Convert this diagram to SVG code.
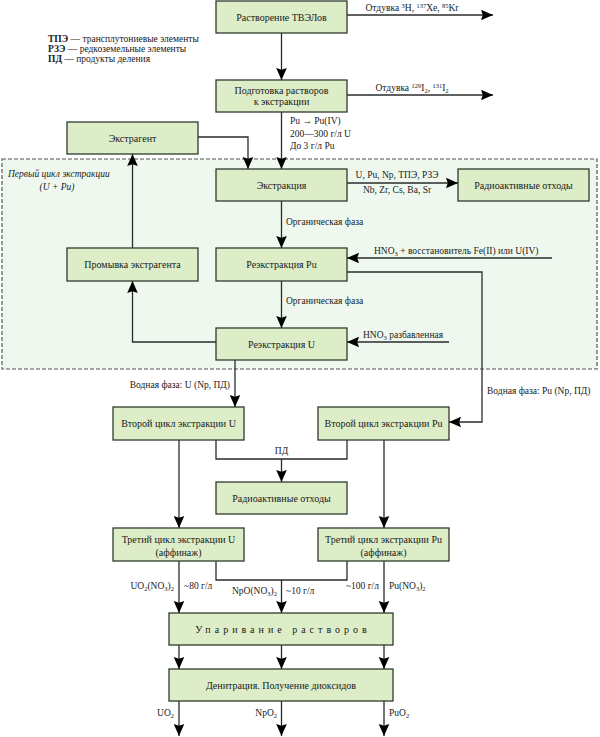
<svg xmlns="http://www.w3.org/2000/svg" width="600" height="737" viewBox="0 0 600 737">
<style>
.n rect{fill:#dcedc8;stroke:#2e3a2e;stroke-width:1.3}
.n text{font-family:"Liberation Serif",serif;font-size:10px;text-anchor:middle;fill:#1a1a1a}
.l{font-family:"Liberation Serif",serif;font-size:9.5px;fill:#1a1a1a}
.c path{fill:none;stroke:#2b2b2b;stroke-width:1.3}
.s{font-size:6.5px}
.m{text-anchor:middle}
.e{text-anchor:end}
</style>
<defs>
<marker id="a" markerUnits="userSpaceOnUse" markerWidth="13" markerHeight="12" viewBox="0 0 13 12" refX="12" refY="6" orient="auto">
<path d="M0,0.7 L12,6 L0,11.3 L1.8,6 z" fill="#000"/>
</marker>
</defs>
<rect x="2" y="159" width="595" height="210" fill="#eff8ee" stroke="#555" stroke-width="1.2" stroke-dasharray="4,2"/>
<text class="l" x="8" y="177" font-style="italic">Первый цикл экстракции</text>
<text class="l m" x="57" y="190" font-style="italic">(U + Pu)</text>
<g id="legend" class="l">
<text x="48" y="42"><tspan font-weight="bold">ТПЭ</tspan> — трансплутониевые элементы</text>
<text x="48" y="52"><tspan font-weight="bold">РЗЭ</tspan> — редкоземельные элементы</text>
<text x="48" y="62"><tspan font-weight="bold">ПД</tspan> — продукты деления</text>
</g>
<g id="connectors" class="c">
<path d="M281.5,33 V80" marker-end="url(#a)"/>
<path d="M347,15 H493" marker-end="url(#a)"/>
<path d="M347,95 H493" marker-end="url(#a)"/>
<path d="M281.5,112 V169" marker-end="url(#a)"/>
<path d="M198,137 H248 V169" marker-end="url(#a)"/>
<path d="M132.5,248 V154" marker-end="url(#a)"/>
<path d="M347,183 H458" marker-end="url(#a)"/>
<path d="M281.5,201 V248" marker-end="url(#a)"/>
<path d="M552,258 H347" marker-end="url(#a)"/>
<path d="M347,272 H482 V422 H449" marker-end="url(#a)"/>
<path d="M281.5,281 V328" marker-end="url(#a)"/>
<path d="M449,342 H347" marker-end="url(#a)"/>
<path d="M216,342 H132.5 V281" marker-end="url(#a)"/>
<path d="M235,360 V407" marker-end="url(#a)"/>
<path d="M179,440 V528" marker-end="url(#a)"/>
<path d="M384,440 V528" marker-end="url(#a)"/>
<path d="M216,440 V459 H347 V440"/>
<path d="M281.5,459 V482" marker-end="url(#a)"/>
<path d="M179,561 V613" marker-end="url(#a)"/>
<path d="M384,561 V613" marker-end="url(#a)"/>
<path d="M216,561 V580 H347 V561"/>
<path d="M281.5,580 V613" marker-end="url(#a)"/>
<path d="M179,645 V669" marker-end="url(#a)"/>
<path d="M281.5,645 V669" marker-end="url(#a)"/>
<path d="M384,645 V669" marker-end="url(#a)"/>
<path d="M179,701 V736" marker-end="url(#a)"/>
<path d="M281.5,701 V736" marker-end="url(#a)"/>
<path d="M384,701 V736" marker-end="url(#a)"/>
</g>
<g id="labels" class="l">
<text x="412" y="11" class="m">Отдувка <tspan class="s" dy="-3">3</tspan><tspan dy="3">H, </tspan><tspan class="s" dy="-3">137</tspan><tspan dy="3">Xe, </tspan><tspan class="s" dy="-3">85</tspan><tspan dy="3">Kr</tspan></text>
<text x="412" y="91" class="m">Отдувка <tspan class="s" dy="-3">129</tspan><tspan dy="3">I</tspan><tspan class="s" dy="2">2</tspan><tspan dy="-2">, </tspan><tspan class="s" dy="-3">131</tspan><tspan dy="3">I</tspan><tspan class="s" dy="2">2</tspan></text>
<text x="290" y="124">Pu → Pu(IV)</text>
<text x="290" y="137">200—300 г/л U</text>
<text x="290" y="149">До 3 г/л Pu</text>
<text x="397" y="178" class="m">U, Pu, Np, ТПЭ, РЗЭ</text>
<text x="397" y="193" class="m">Nb, Zr, Cs, Ba, Sr</text>
<text x="286" y="225">Органическая фаза</text>
<text x="286" y="304">Органическая фаза</text>
<text x="374" y="254">HNO<tspan class="s" dy="2">3</tspan><tspan dy="-2"> + восстановитель  Fe(II) или U(IV)</tspan></text>
<text x="363" y="338">HNO<tspan class="s" dy="2">3</tspan><tspan dy="-2"> разбавленная</tspan></text>
<text x="230" y="388" class="e">Водная фаза: U (Np, ПД)</text>
<text x="487" y="394">Водная фаза: Pu (Np, ПД)</text>
<text x="281.5" y="454" class="m">ПД</text>
<text x="174" y="589" class="e">UO<tspan class="s" dy="2">2</tspan><tspan dy="-2">(NO</tspan><tspan class="s" dy="2">3</tspan><tspan dy="-2">)</tspan><tspan class="s" dy="2">2</tspan></text>
<text x="184" y="589">~80 г/л</text>
<text x="277" y="594" class="e">NpO(NO<tspan class="s" dy="2">3</tspan><tspan dy="-2">)</tspan><tspan class="s" dy="2">2</tspan></text>
<text x="286" y="594">~10 г/л</text>
<text x="379" y="589" class="e">~100 г/л</text>
<text x="389" y="589">Pu(NO<tspan class="s" dy="2">3</tspan><tspan dy="-2">)</tspan><tspan class="s" dy="2">2</tspan></text>
<text x="174" y="716" class="e">UO<tspan class="s" dy="2">2</tspan></text>
<text x="277" y="716" class="e">NpO<tspan class="s" dy="2">2</tspan></text>
<text x="389" y="716">PuO<tspan class="s" dy="2">2</tspan></text>
</g>
<g id="n1" class="n"><rect x="216" y="1" width="131" height="32"/><text x="281.5" y="20.5">Растворение ТВЭЛов</text></g>
<g id="n2" class="n"><rect x="216" y="80" width="131" height="32"/><text x="281.5" y="94">Подготовка растворов</text><text x="281.5" y="105">к экстракции</text></g>
<g id="n3" class="n"><rect x="67" y="122" width="131" height="32"/><text x="132.5" y="141.5">Экстрагент</text></g>
<g id="n4" class="n"><rect x="216" y="169" width="131" height="32"/><text x="281.5" y="188.5">Экстракция</text></g>
<g id="n5" class="n"><rect x="458" y="169" width="131" height="32"/><text x="523.5" y="188.5">Радиоактивные отходы</text></g>
<g id="n6" class="n"><rect x="67" y="248" width="131" height="33"/><text x="132.5" y="268">Промывка экстрагента</text></g>
<g id="n7" class="n"><rect x="216" y="248" width="131" height="33"/><text x="281.5" y="268">Реэкстракция Pu</text></g>
<g id="n8" class="n"><rect x="216" y="328" width="131" height="32"/><text x="281.5" y="347.5">Реэкстракция U</text></g>
<g id="n9" class="n"><rect x="113" y="407" width="131" height="33"/><text x="178.5" y="427">Второй цикл экстракции U</text></g>
<g id="n10" class="n"><rect x="318" y="407" width="131" height="33"/><text x="383.5" y="427">Второй цикл экстракции Pu</text></g>
<g id="n11" class="n"><rect x="216" y="482" width="131" height="32"/><text x="281.5" y="501.5">Радиоактивные отходы</text></g>
<g id="n12" class="n"><rect x="113" y="528" width="131" height="33"/><text x="178.5" y="543">Третий цикл экстракции U</text><text x="178.5" y="556">(аффинаж)</text></g>
<g id="n13" class="n"><rect x="318" y="528" width="131" height="33"/><text x="383.5" y="543">Третий цикл экстракции Pu</text><text x="383.5" y="556">(аффинаж)</text></g>
<g id="n14" class="n"><rect x="169" y="613" width="224" height="32"/><text x="283" y="632.5" letter-spacing="4">Упаривание растворов</text></g>
<g id="n15" class="n"><rect x="169" y="669" width="224" height="32"/><text x="281" y="688.5">Денитрация. Получение диоксидов</text></g>
</svg>
